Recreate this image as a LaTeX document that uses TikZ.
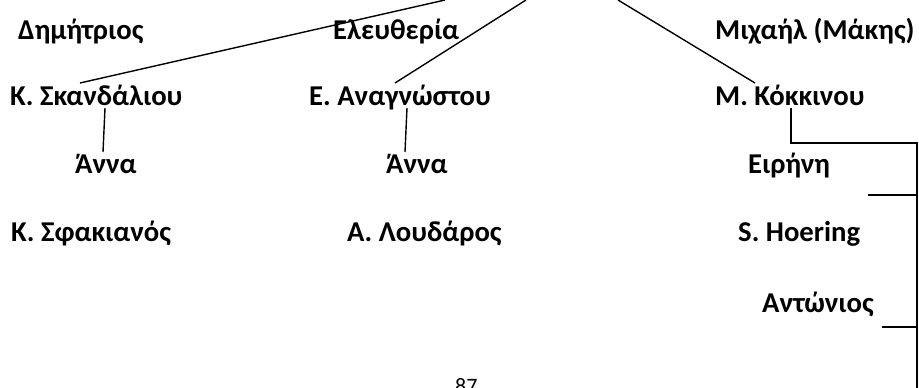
\documentclass[tikz,border=0pt]{standalone}
\usepackage{fontspec}
\setmainfont{Carlito}
\usepackage{xcolor}
\usepackage{tikz}
\usetikzlibrary{positioning}

\begin{document}
\begin{tikzpicture}[
  x=1pt, y=-1pt,
  every node/.style={inner sep=0pt, anchor=base west},
  person/.style={font=\fontsize{28.7}{34}\selectfont\bfseries},
  pagenum/.style={font=\fontsize{22}{26}\selectfont},
  line/.style={draw=black, line width=1.4pt}
]
\useasboundingbox (0,0) rectangle (919,388);
\clip (0,0) rectangle (919,388);

% first row
\node[person] (dim) at (18,39) {Δημήτριος};
\node[person] (elef) at (333,39) {Ελευθερία};
\node[person] (mich) at (715,39) {Μιχαήλ (Μάκης)};

% second row
\node[person] (skand) at (10,105) {Κ. Σκανδάλιου};
\node[person] (anagn) at (309,105) {Ε. Αναγνώστου};
\node[person] (kokk) at (715,105) {Μ. Κόκκινου};

\node[person] (anna1) at (75,173) {Άννα};
\node[person] (anna2) at (386,173) {Άννα};
\node[person] (eir) at (748,173) {Ειρήνη};

\node[person] (sfak) at (11,241) {Κ. Σφακιανός};
\node[person] (loud) at (347,241) {Α. Λουδάρος};
\node[person] (hoer) at (738,241) {S. Hoering};

\node[person] (ant) at (762,312) {Αντώνιος};

\node[pagenum] (pg) at (455,393) {87};

% line ends
\coordinate (up1) at (445,0);
\coordinate (up2) at (526,0);
\coordinate (up3) at (618,0);
\coordinate (skand-t) at (80,83);
\coordinate (anagn-t) at (395,83);
\coordinate (kokk-t) at (755,83);
\coordinate (skand-b) at (105,108);
\coordinate (anna1-t) at (103,152);
\coordinate (anagn-b) at (407,108);
\coordinate (anna2-t) at (405,152);
\coordinate (kokk-b) at (791,108);
\coordinate (brk) at (917,143);
\coordinate (eir-r) at (868,195);
\coordinate (ant-r) at (882,327);
\coordinate (down) at (917,390);

\draw[line] (up1) -- (skand-t);
\draw[line] (up2) -- (anagn-t);
\draw[line] (up3) -- (kokk-t);
\draw[line] (skand-b) -- (anna1-t);
\draw[line] (anagn-b) -- (anna2-t);
\draw[line] (kokk-b) |- (brk) -- (down);
\draw[line] (eir-r) -- (eir-r -| brk);
\draw[line] (ant-r) -- (ant-r -| brk);
\end{tikzpicture}
\end{document}
